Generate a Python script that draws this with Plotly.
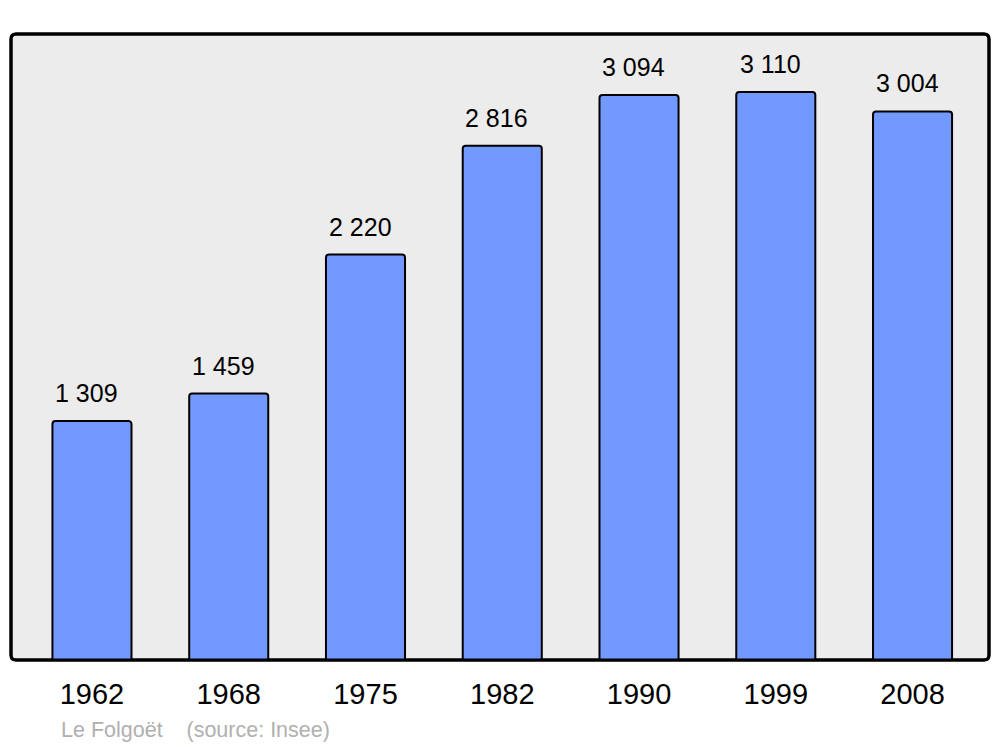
import plotly.graph_objects as go

years = ["1962", "1968", "1975", "1982", "1990", "1999", "2008"]
population = [1309, 1459, 2220, 2816, 3094, 3110, 3004]
value_labels = ["1 309", "1 459", "2 220", "2 816", "3 094", "3 110", "3 004"]
source_text = "Le Folgoët    (source: Insee)"

# page body has an 8px margin, so the figure is sized to fit the remaining window
W, H = 992, 739
ml, mr, mt, mb = 3, 11, 26, 87
pw, ph = W - ml - mr, H - mt - mb

fig = go.Figure()
fig.add_trace(go.Bar(
    x=list(range(len(years))), y=population,
    width=0.578,
    marker=dict(color="#7299FF", line=dict(color="#000000", width=2), cornerradius=3),
    hoverinfo="skip",
))

for i, (v, t) in enumerate(zip(population, value_labels)):
    fig.add_annotation(x=i - 0.04, y=v, text=t, showarrow=False, yanchor="middle",
                       yshift=28, font=dict(size=25, color="#000000", family="Liberation Sans"))

fig.add_annotation(xref="paper", yref="paper", x=48 / pw, y=-(730 - 660) / ph,
                   xanchor="left", yanchor="middle",
                   text=source_text.replace("    ", "&nbsp;&nbsp;&nbsp;&nbsp;"),
                   showarrow=False, font=dict(size=21.5, color="#B0B0B0", family="Liberation Sans"))

# rounded border frame
rx, ry = 5 / pw, 5 / ph
path = (f"M {rx},0 L {1-rx},0 Q 1,0 1,{ry} L 1,{1-ry} Q 1,1 {1-rx},1 "
        f"L {rx},1 Q 0,1 0,{1-ry} L 0,{ry} Q 0,0 {rx},0 Z")
fig.add_shape(type="path", xref="paper", yref="paper", path=path,
              fillcolor="#ECECEC", line=dict(color="#000000", width=3), layer="below")
fig.add_shape(type="path", xref="paper", yref="paper", path=path,
              fillcolor="rgba(0,0,0,0)", line=dict(color="#000000", width=3), layer="above")

fig.update_layout(
    width=W, height=H,
    margin=dict(l=ml, r=mr, t=mt, b=mb),
    paper_bgcolor="#FFFFFF", plot_bgcolor="rgba(0,0,0,0)",
    showlegend=False,
    font=dict(family="Liberation Sans"),
    xaxis=dict(range=[-0.592, 6.559], tickmode="array", tickvals=list(range(len(years))),
               ticktext=years, showgrid=False, zeroline=False, showline=False, ticks="",
               ticklabelstandoff=14,
               tickfont=dict(size=29, color="#000000"), fixedrange=True),
    yaxis=dict(range=[0, 3428], showgrid=False, zeroline=False, showline=False,
               showticklabels=False, ticks="", fixedrange=True),
)

fig.write_html("out.html")
